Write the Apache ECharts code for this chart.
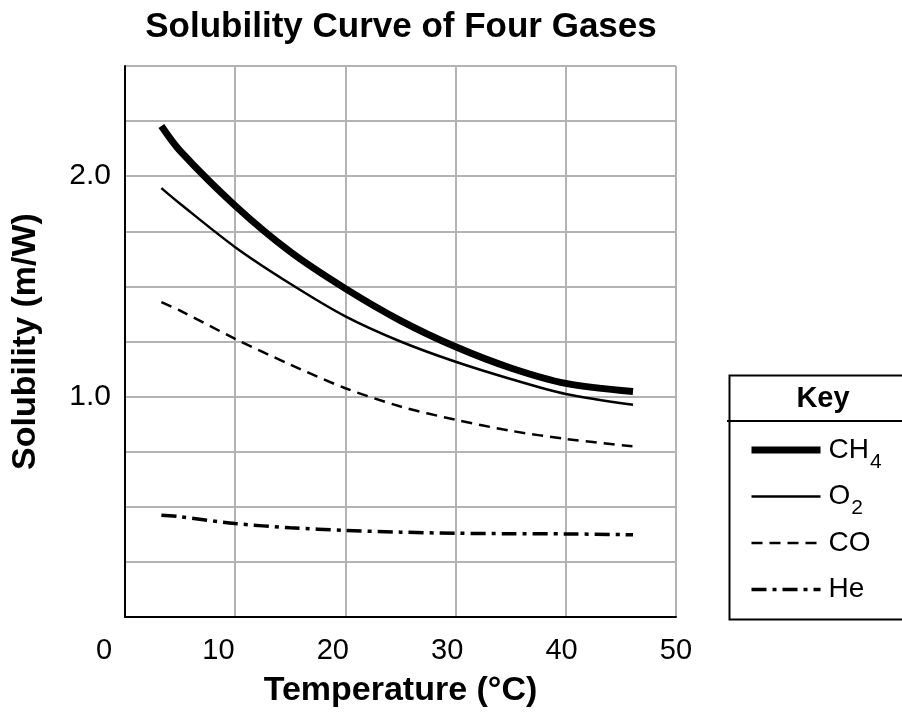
<!DOCTYPE html>
<html>
<head>
<meta charset="utf-8">
<script src="https://cdn.jsdelivr.net/npm/echarts@6/dist/echarts.min.js"></script>
<style>
html,body{margin:0;padding:0;background:#fff;}
#chart{width:902px;height:713px;}
</style>
</head>
<body>
<div id="chart"></div>
<script>
// ---- data ----
var temps = [3.3, 5, 10, 15, 20, 25, 30, 35, 40, 46.1];
var ch4 = [2.228, 2.115, 1.866, 1.657, 1.490, 1.345, 1.226, 1.130, 1.060, 1.023];
var o2  = [1.946, 1.875, 1.678, 1.512, 1.364, 1.250, 1.158, 1.080, 1.012, 0.963];
var co  = [1.429, 1.390, 1.262, 1.145, 1.038, 0.955, 0.895, 0.845, 0.808, 0.774];
var he  = [0.462, 0.455, 0.424, 0.405, 0.393, 0.385, 0.380, 0.378, 0.377, 0.373];
var seriesNames = ['CH4', 'O2', 'CO', 'He'];
var xTicks = [0, 10, 20, 30, 40, 50];
var yLabelValues = [1, 2];

function pairs(xs, ys) { return xs.map(function (x, i) { return [x, ys[i]]; }); }

var chart = echarts.init(document.getElementById('chart'));
var FONT = '"Liberation Sans", Arial, sans-serif';
var grey = '#b3b3b3';

var option = {
  animation: false,
  backgroundColor: '#fff',
  title: [{
    text: 'Solubility Curve of Four Gases',
    left: 396, top: 5, textAlign: 'center',
    textStyle: { fontFamily: FONT, fontWeight: 'bold', fontSize: 35, color: '#000' }
  }, {
    text: 'Key',
    left: 818, top: 379, textAlign: 'center',
    textStyle: { fontFamily: FONT, fontWeight: 'bold', fontSize: 29, color: '#000' }
  }],
  grid: [
    { left: 125, right: 226, top: 66, bottom: 95, containLabel: false },
    { left: 104, right: 226, top: 66, bottom: 95, containLabel: false }
  ],
  xAxis: [{
    type: 'value', gridIndex: 0, min: 0, max: 50, interval: 10,
    name: 'Temperature (°C)', nameLocation: 'middle', nameGap: 57,
    nameTextStyle: { fontFamily: FONT, fontWeight: 'bold', fontSize: 34, color: '#000' },
    axisLine: { show: true, onZero: false, lineStyle: { color: '#000', width: 2 } },
    axisTick: { show: false },
    axisLabel: { show: false },
    splitLine: { show: true, lineStyle: { color: grey, width: 2 } }
  }, {
    type: 'value', gridIndex: 1, min: 0, max: 50, interval: 10,
    axisLine: { show: false }, axisTick: { show: false },
    splitLine: { show: false },
    axisLabel: {
      show: true, margin: 18, fontFamily: FONT, fontSize: 29, color: '#000',
      formatter: function (v) { return xTicks.indexOf(v) >= 0 ? String(v) : ''; }
    }
  }],
  yAxis: [{
    type: 'value', gridIndex: 0, min: 0, max: 2.5, interval: 0.25,
    name: 'Solubility (m/W)', nameLocation: 'middle', nameGap: 82, nameRotate: 90,
    nameTextStyle: { fontFamily: FONT, fontWeight: 'bold', fontSize: 34, color: '#000' },
    axisLine: { show: true, onZero: false, lineStyle: { color: '#000', width: 2 } },
    axisTick: { show: false },
    axisLabel: {
      margin: 14, fontFamily: FONT, fontSize: 30, color: '#000',
      formatter: function (v) {
        for (var i = 0; i < yLabelValues.length; i++) {
          if (Math.abs(v - yLabelValues[i]) < 1e-9) return v.toFixed(1);
        }
        return '';
      }
    },
    splitLine: { show: true, lineStyle: { color: grey, width: 2 } }
  }, {
    type: 'value', gridIndex: 1, min: 0, max: 2.5, show: false
  }],
  legend: {
    orient: 'vertical', left: 743, top: 431,
    itemWidth: 69, itemHeight: 28, itemGap: 10,
    data: seriesNames,
    lineStyle: { width: 'inherit', type: 'inherit' },
    itemStyle: { opacity: 0 },
    formatter: function (name) {
      if (name === 'CH4') return '{m|CH}{s|4}';
      if (name === 'O2') return '{m|O}{s|2}';
      return '{m|' + name + '}{s| }';
    },
    textStyle: {
      fontFamily: FONT, fontSize: 28, color: '#000', padding: [0, 0, 0, 3],
      rich: {
        m: { fontFamily: FONT, fontSize: 28, color: '#000', height: 30, verticalAlign: 'middle' },
        s: { fontFamily: FONT, fontSize: 21, color: '#000', padding: [24, 0, 0, 1], verticalAlign: 'middle' }
      }
    }
  },
  graphic: [{
    type: 'rect', left: 727, top: 373, silent: true,
    shape: { width: 200, height: 244 },
    style: { fill: 'none', stroke: '#000', lineWidth: 2 }
  }, {
    type: 'line', silent: true,
    shape: { x1: 727, y1: 421, x2: 902, y2: 421 },
    style: { stroke: '#000', lineWidth: 2 }
  }],
  series: [{
    name: 'CH4', type: 'line', xAxisIndex: 0, yAxisIndex: 0,
    data: pairs(temps, ch4), smooth: 0.3, symbol: 'none',
    lineStyle: { color: '#000', width: 7, cap: 'butt' }
  }, {
    name: 'O2', type: 'line', xAxisIndex: 0, yAxisIndex: 0,
    data: pairs(temps, o2), smooth: 0.3, symbol: 'none',
    lineStyle: { color: '#000', width: 2.5, cap: 'butt' }
  }, {
    name: 'CO', type: 'line', xAxisIndex: 0, yAxisIndex: 0,
    data: pairs(temps, co), smooth: 0.3, symbol: 'none',
    lineStyle: { color: '#000', width: 2.5, type: [11, 7], cap: 'butt' }
  }, {
    name: 'He', type: 'line', xAxisIndex: 0, yAxisIndex: 0,
    data: pairs(temps, he), smooth: 0.3, symbol: 'none',
    lineStyle: { color: '#000', width: 3.5, type: [15, 6, 4, 6], cap: 'butt' }
  }]
};
chart.setOption(option);
</script>
</body>
</html>
